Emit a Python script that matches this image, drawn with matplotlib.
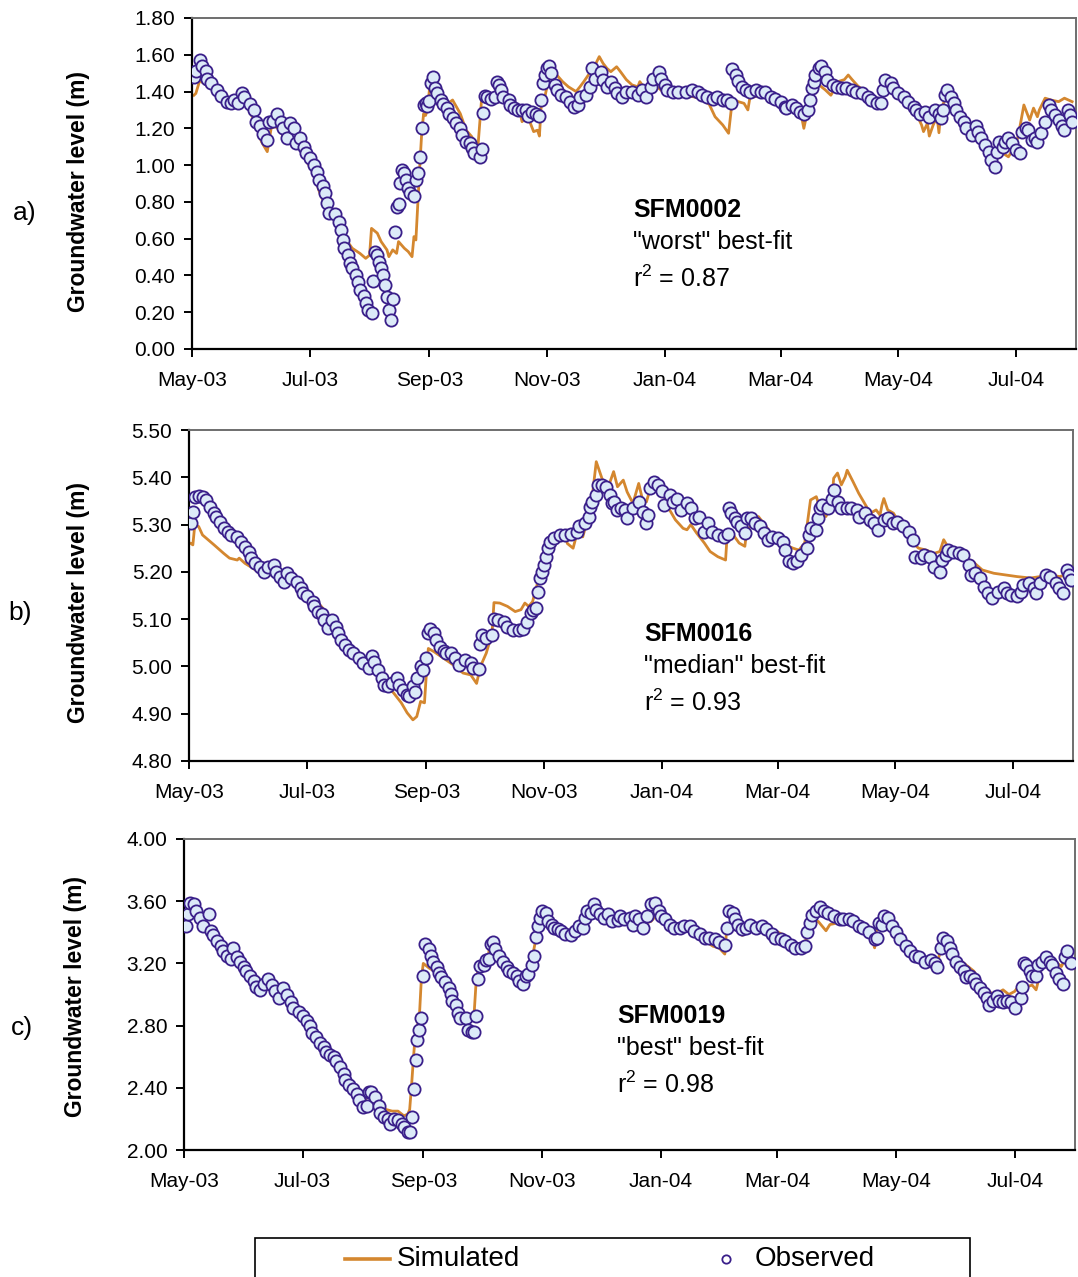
import numpy as np
import matplotlib
matplotlib.use("Agg")
import matplotlib.pyplot as plt
import matplotlib.dates as mdates
from matplotlib.patches import Rectangle
from matplotlib.lines import Line2D
from matplotlib.ticker import MultipleLocator, FormatStrFormatter

plt.rcParams['font.family'] = ['Liberation Sans', 'DejaVu Sans']
plt.rcParams['mathtext.fontset'] = 'custom'
plt.rcParams['mathtext.rm'] = 'Liberation Sans'
plt.rcParams['mathtext.it'] = 'Liberation Sans:italic'
plt.rcParams['mathtext.bf'] = 'Liberation Sans:bold'

START = np.datetime64('2003-05-01')
END = np.datetime64('2004-08-01')

# ---- SFM0002 : (days since 1 May 2003, level in m) ----
obs_a = [(1,1.48),(2,1.51),(4,1.57),(5,1.54),(7,1.51),(8,1.47),(10,1.445),(13,1.41),(15,1.375),(18,1.345),
         (20,1.34),(22,1.354),(24,1.34),(26,1.39),(27,1.37),(30,1.33),(32,1.30),(33,1.236),(35,1.21),(37,1.17),
         (39,1.137),(40,1.236),(42,1.24),(44,1.28),(46,1.236),(47,1.20),(49,1.145),(51,1.227),(53,1.20),(54,1.118),
         (56,1.145),(58,1.10),(59,1.064),(61,1.037),(63,1.0),(65,0.964),(66,0.919),(68,0.886),(69,0.85),(70,0.792),
         (71,0.738),(74,0.734),(76,0.692),(77,0.647),(78,0.593),(79,0.548),(81,0.511),(82,0.466),(83,0.439),(85,0.402),
         (86,0.366),(87,0.321),(89,0.288),(90,0.248),(91,0.212),(93,0.194),(94,0.371),(95,0.529),(96,0.51),(97,0.475),
         (98,0.44),(99,0.402),(100,0.348),(101,0.281),(102,0.212),(103,0.158),(104,0.27),(105,0.638),(106,0.774),(107,0.79),
         (108,0.90),(109,0.973),(110,0.955),(111,0.919),(112,0.874),(113,0.85),(115,0.832),(116,0.919),(117,0.955),(118,1.042),
         (119,1.2),(120,1.327),(121,1.34),(122,1.32),(123,1.35),(124,1.448),(125,1.48),(126,1.42),(127,1.39),(129,1.354),
         (130,1.335),(132,1.309),(133,1.28),(135,1.254),(137,1.227),(139,1.2),(140,1.164),(142,1.127),(144,1.118),(145,1.091),
         (146,1.064),(149,1.042),(150,1.09),(151,1.285),(152,1.376),(153,1.37),(155,1.36),(157,1.372),(158,1.454),(159,1.435),
         (160,1.41),(161,1.37),(164,1.354),(165,1.327),(167,1.31),(169,1.30),(171,1.30),(173,1.30),(174,1.267),(176,1.29),
         (178,1.28),(180,1.267),(181,1.354),(182,1.448),(183,1.49),(184,1.526),(185,1.54),(186,1.50),(188,1.436),(189,1.41),
         (191,1.38),(194,1.37),(196,1.345),(198,1.318),(200,1.327),(201,1.37),(204,1.38),(206,1.423),(207,1.526),(209,1.47),
         (212,1.508),(213,1.465),(215,1.426),(217,1.45),(219,1.42),(220,1.39),(223,1.372),(225,1.40),(228,1.40),(231,1.38),
         (233,1.41),(235,1.37),(238,1.426),(239,1.47),(242,1.508),(243,1.47),(245,1.435),(246,1.41),(249,1.40),(252,1.40),
         (256,1.40),(259,1.41),(262,1.40),(264,1.38),(267,1.37),(270,1.36),(272,1.37),(275,1.354),(277,1.354),(279,1.336),
         (280,1.52),(282,1.49),(283,1.455),(285,1.426),(287,1.41),(289,1.40),(292,1.41),(295,1.40),(297,1.40),(300,1.37),
         (302,1.36),(305,1.345),(307,1.318),(308,1.31),(311,1.327),(313,1.31),(315,1.29),(317,1.28),(319,1.30),(320,1.354),
         (321,1.417),(322,1.454),(323,1.49),(325,1.526),(326,1.54),(328,1.508),(329,1.465),(332,1.435),(334,1.426),(337,1.417),
         (339,1.417),(342,1.41),(344,1.40),(347,1.39),(350,1.372),(352,1.354),(355,1.336),(357,1.336),(358,1.41),(359,1.463),
         (362,1.445),(363,1.417),(366,1.39),(369,1.372),(371,1.345),(374,1.318),(375,1.30),(377,1.28),(380,1.29),(382,1.263),
         (385,1.30),(387,1.28),(388,1.254),(389,1.30),(390,1.38),(391,1.41),(393,1.372),(395,1.336),(396,1.30),(398,1.263),
         (400,1.236),(401,1.20),(404,1.164),(406,1.21),(407,1.182),(409,1.145),(411,1.11),(413,1.072),(414,1.027),(416,0.99),
         (417,1.072),(418,1.127),(420,1.10),(421,1.127),(423,1.145),(425,1.118),(427,1.08),(429,1.064),(430,1.182),(432,1.20),
         (433,1.19),(435,1.136),(437,1.145),(438,1.127),(440,1.173),(442,1.236),(444,1.327),(445,1.30),(447,1.272),(449,1.245),
         (451,1.21),(452,1.19),(454,1.30),(455,1.272),(456,1.236)]

sim_a = [(1,1.38),(2,1.39),(4,1.46),(11,1.41),(20,1.345),(23,1.35),(25,1.36),(28,1.33),(33,1.227),(36,1.127),
         (39,1.073),(41,1.2),(43,1.21),(46,1.19),(48,1.127),(51,1.17),(53,1.13),(56,1.082),(59,1.028),(63,0.955),
         (66,0.855),(70,0.756),(73,0.72),(77,0.665),(80,0.593),(83,0.548),(87,0.52),(90,0.493),(92,0.51),(93,0.656),
         (96,0.63),(98,0.584),(101,0.539),(102,0.502),(104,0.539),(106,0.52),(107,0.584),(110,0.548),(112,0.53),(114,0.502),
         (115,0.611),(116,0.593),(117,0.792),(118,0.99),(119,1.173),(120,1.28),(121,1.27),(122,1.30),(123,1.41),(126,1.41),
         (128,1.36),(132,1.33),(135,1.354),(139,1.28),(142,1.19),(145,1.154),(148,1.08),(150,1.354),(151,1.38),(154,1.38),
         (158,1.39),(163,1.354),(166,1.327),(170,1.282),(171,1.236),(173,1.26),(175,1.236),(177,1.182),(179,1.19),(180,1.158),
         (181,1.336),(183,1.38),(185,1.48),(189,1.49),(192,1.454),(195,1.426),(199,1.40),(201,1.426),(203,1.454),(206,1.50),
         (208,1.526),(211,1.59),(213,1.553),(215,1.526),(217,1.508),(220,1.535),(222,1.508),(225,1.465),(228,1.436),(231,1.426),
         (232,1.454),(235,1.41),(238,1.39),(241,1.426),(245,1.39),(256,1.38),(263,1.364),(268,1.33),(271,1.263),(275,1.218),
         (278,1.173),(280,1.36),(283,1.345),(286,1.336),(288,1.30),(289,1.364),(294,1.38),(297,1.39),(302,1.38),(307,1.327),
         (313,1.28),(316,1.254),(317,1.20),(319,1.30),(321,1.39),(325,1.435),(328,1.41),(331,1.38),(335,1.455),(338,1.465),
         (340,1.49),(342,1.465),(345,1.43),(350,1.39),(354,1.364),(357,1.354),(358,1.38),(361,1.426),(364,1.41),(368,1.38),
         (373,1.327),(376,1.263),(378,1.218),(379,1.182),(381,1.227),(382,1.158),(384,1.218),(386,1.263),(387,1.176),(388,1.30),
         (390,1.354),(394,1.354),(399,1.28),(404,1.21),(409,1.136),(413,1.10),(416,1.036),(419,1.072),(423,1.045),(426,1.10),
         (428,1.154),(431,1.327),(432,1.30),(434,1.245),(436,1.31),(438,1.263),(439,1.30),(442,1.364),(445,1.354),(449,1.345),
         (452,1.364),(456,1.345)]

# ---- SFM0016 ----
obs_b = [(1,5.304),(2,5.327),(3,5.359),(5,5.36),(7,5.359),(9,5.352),(11,5.338),(13,5.324),(14,5.317),(16,5.306),
         (18,5.292),(20,5.285),(22,5.278),(25,5.274),(27,5.264),(29,5.253),(31,5.243),(32,5.229),(34,5.218),(37,5.211),
         (39,5.20),(41,5.211),(44,5.215),(45,5.20),(47,5.19),(49,5.179),(51,5.197),(53,5.186),(56,5.178),(58,5.165),
         (59,5.155),(61,5.148),(64,5.137),(65,5.127),(67,5.116),(69,5.11),(70,5.098),(72,5.081),(74,5.098),(76,5.084),
         (77,5.07),(79,5.056),(81,5.046),(83,5.035),(85,5.028),(88,5.017),(90,5.007),(93,4.996),(95,5.021),(96,5.01),
         (98,4.993),(100,4.975),(101,4.96),(103,4.958),(105,4.965),(108,4.975),(109,4.961),(111,4.95),(113,4.94),(114,4.937),
         (116,4.958),(117,4.945),(118,4.975),(120,5.0),(121,4.993),(123,5.017),(124,5.07),(125,5.08),(127,5.07),(128,5.056),
         (130,5.042),(132,5.032),(133,5.028),(136,5.028),(138,5.017),(140,5.003),(143,5.014),(146,5.007),(147,4.996),(150,4.994),
         (151,5.048),(152,5.067),(154,5.06),(157,5.067),(158,5.10),(160,5.098),(163,5.095),(165,5.084),(168,5.077),(171,5.077),
         (173,5.08),(175,5.095),(177,5.112),(178,5.119),(180,5.123),(181,5.158),(182,5.186),(183,5.20),(184,5.215),(185,5.232),
         (186,5.25),(187,5.264),(189,5.271),(192,5.278),(195,5.278),(198,5.281),(201,5.285),(202,5.296),(205,5.303),(207,5.317),
         (208,5.338),(209,5.348),(211,5.362),(212,5.384),(214,5.384),(216,5.38),(218,5.362),(219,5.345),(220,5.348),(222,5.331),
         (224,5.334),(226,5.331),(227,5.313),(230,5.334),(233,5.348),(235,5.327),(237,5.303),(238,5.32),(239,5.377),(241,5.391),
         (243,5.384),(245,5.37),(246,5.341),(249,5.362),(251,5.348),(253,5.355),(255,5.331),(258,5.345),(260,5.334),(262,5.313),
         (264,5.317),(267,5.285),(269,5.303),(271,5.285),(274,5.278),(277,5.274),(279,5.281),(280,5.334),(281,5.324),(283,5.313),
         (284,5.306),(286,5.296),(288,5.282),(289,5.313),(291,5.313),(293,5.303),(296,5.296),(298,5.282),(300,5.268),(302,5.274),
         (305,5.271),(308,5.264),(309,5.246),(311,5.222),(313,5.218),(315,5.222),(317,5.236),(320,5.25),(321,5.278),(322,5.292),
         (325,5.289),(326,5.313),(327,5.334),(328,5.341),(331,5.334),(333,5.355),(334,5.373),(336,5.348),(338,5.334),(341,5.334),
         (343,5.334),(346,5.331),(347,5.317),(350,5.324),(353,5.31),(355,5.303),(357,5.289),(360,5.31),(362,5.313),(365,5.303),
         (367,5.306),(370,5.296),(373,5.285),(375,5.268),(376,5.232),(379,5.229),(381,5.236),(384,5.232),(386,5.211),(389,5.20),
         (390,5.225),(392,5.236),(393,5.246),(396,5.243),(399,5.239),(401,5.236),(404,5.215),(405,5.194),(407,5.197),(410,5.186),
         (412,5.169),(414,5.155),(416,5.144),(419,5.158),(422,5.165),(424,5.155),(426,5.151),(429,5.148),(431,5.158),(432,5.172),
         (435,5.176),(438,5.165),(439,5.155),(441,5.176),(444,5.194),(446,5.19),(449,5.176),(451,5.165),(453,5.155),(455,5.204),
         (456,5.194),(457,5.183)]

sim_b = [(1,5.26),(2,5.257),(3,5.299),(5,5.296),(7,5.278),(13,5.257),(18,5.239),(21,5.229),(25,5.225),(26,5.229),
         (29,5.218),(33,5.208),(38,5.194),(43,5.194),(47,5.187),(51,5.183),(56,5.18),(60,5.166),(64,5.148),(70,5.12),
         (75,5.092),(80,5.063),(85,5.035),(90,5.014),(95,4.993),(101,4.965),(106,4.944),(110,4.923),(113,4.902),(116,4.887),
         (118,4.894),(120,4.926),(122,4.923),(123,4.986),(124,5.038),(127,5.031),(132,5.017),(137,5.003),(142,4.986),(146,4.982),
         (149,4.964),(151,5.0),(154,5.028),(157,5.07),(158,5.135),(161,5.134),(165,5.127),(169,5.116),(172,5.12),(174,5.134),
         (176,5.127),(178,5.137),(181,5.183),(183,5.225),(186,5.26),(188,5.271),(191,5.278),(195,5.278),(196,5.26),(199,5.25),
         (201,5.281),(204,5.274),(206,5.303),(208,5.352),(209,5.362),(211,5.433),(214,5.397),(217,5.377),(220,5.412),(222,5.38),
         (225,5.394),(227,5.369),(230,5.345),(233,5.387),(235,5.352),(237,5.348),(239,5.377),(242,5.391),(245,5.37),(249,5.331),
         (252,5.31),(256,5.292),(258,5.289),(260,5.30),(263,5.282),(267,5.261),(270,5.243),(274,5.232),(278,5.225),(279,5.289),
         (282,5.278),(285,5.261),(288,5.254),(289,5.289),(292,5.30),(295,5.317),(299,5.296),(302,5.278),(306,5.268),(309,5.257),
         (313,5.25),(316,5.246),(319,5.261),(322,5.352),(325,5.359),(327,5.334),(330,5.317),(333,5.345),(334,5.398),(336,5.409),
         (338,5.384),(340,5.401),(341,5.415),(344,5.391),(347,5.366),(351,5.338),(353,5.324),(356,5.331),(358,5.32),(359,5.341),
         (360,5.355),(362,5.331),(365,5.324),(368,5.303),(372,5.285),(375,5.261),(378,5.25),(382,5.246),(386,5.239),(389,5.243),
         (391,5.268),(393,5.254),(397,5.246),(401,5.232),(406,5.222),(411,5.204),(417,5.197),(422,5.194),(429,5.19),(436,5.187),
         (441,5.19),(446,5.194),(451,5.19),(455,5.194)]

# ---- SFM0019 ----
obs_c = [(1,3.44),(2,3.517),(3,3.59),(5,3.58),(6,3.54),(8,3.495),(10,3.44),(13,3.517),(14,3.41),(15,3.38),
         (17,3.346),(19,3.31),(20,3.282),(22,3.25),(24,3.23),(25,3.30),(27,3.24),(29,3.21),(31,3.18),(32,3.15),
         (34,3.117),(36,3.085),(37,3.05),(39,3.03),(41,3.07),(43,3.10),(45,3.06),(47,3.02),(49,2.98),(51,3.04),
         (53,3.0),(55,2.95),(56,2.91),(59,2.89),(61,2.86),(63,2.83),(65,2.80),(66,2.755),(68,2.725),(70,2.69),
         (72,2.66),(73,2.63),(75,2.61),(77,2.60),(78,2.57),(80,2.535),(82,2.49),(83,2.45),(85,2.42),(87,2.39),
         (89,2.36),(90,2.32),(92,2.275),(94,2.285),(95,2.37),(96,2.37),(98,2.34),(100,2.285),(101,2.24),(103,2.21),
         (105,2.20),(106,2.17),(108,2.20),(110,2.19),(112,2.17),(113,2.15),(115,2.115),(116,2.115),(117,2.21),(118,2.39),
         (119,2.58),(120,2.71),(121,2.77),(122,2.85),(123,3.116),(124,3.325),(126,3.29),(127,3.25),(128,3.21),(130,3.18),
         (131,3.14),(132,3.11),(134,3.08),(136,3.04),(137,3.005),(138,2.96),(140,2.93),(141,2.88),(142,2.85),(145,2.85),
         (146,2.77),(148,2.76),(149,2.76),(150,2.86),(151,3.10),(152,3.185),(154,3.19),(155,3.22),(157,3.23),(158,3.325),
         (159,3.335),(160,3.29),(162,3.25),(164,3.21),(166,3.18),(167,3.15),(169,3.14),(171,3.12),(172,3.085),(174,3.065),
         (176,3.12),(177,3.13),(179,3.19),(180,3.25),(181,3.37),(182,3.44),(183,3.49),(184,3.535),(186,3.525),(187,3.47),
         (189,3.45),(190,3.43),(192,3.42),(194,3.41),(196,3.39),(199,3.38),(201,3.41),(203,3.44),(205,3.43),(206,3.49),
         (207,3.535),(209,3.525),(211,3.58),(212,3.545),(214,3.515),(216,3.49),(218,3.515),(220,3.47),(223,3.48),(224,3.505),
         (226,3.485),(229,3.495),(231,3.45),(232,3.506),(234,3.485),(236,3.43),(238,3.506),(240,3.58),(242,3.59),(244,3.54),
         (245,3.506),(247,3.485),(250,3.45),(252,3.43),(255,3.43),(257,3.44),(260,3.44),(262,3.41),(265,3.39),(268,3.366),
         (270,3.366),(273,3.355),(275,3.34),(278,3.32),(279,3.43),(280,3.54),(282,3.525),(283,3.485),(285,3.45),(287,3.42),
         (289,3.43),(291,3.45),(294,3.43),(297,3.44),(299,3.42),(302,3.39),(304,3.366),(307,3.355),(309,3.345),(312,3.32),
         (314,3.30),(317,3.30),(319,3.31),(320,3.40),(322,3.46),(323,3.51),(325,3.54),(327,3.56),(329,3.535),(331,3.525),
         (334,3.505),(337,3.485),(339,3.485),(342,3.485),(344,3.475),(347,3.44),(349,3.43),(352,3.40),(355,3.355),(356,3.366),
         (357,3.46),(359,3.45),(360,3.505),(362,3.495),(364,3.44),(366,3.40),(368,3.355),(371,3.31),(373,3.28),(376,3.25),
         (378,3.24),(381,3.21),(384,3.22),(386,3.20),(387,3.18),(389,3.30),(390,3.366),(392,3.345),(394,3.30),(395,3.26),
         (397,3.21),(399,3.18),(401,3.15),(402,3.11),(404,3.12),(406,3.10),(407,3.07),(409,3.04),(411,3.01),(413,2.98),
         (414,2.93),(416,2.96),(418,2.99),(419,2.96),(421,2.95),(423,2.96),(425,2.95),(427,2.91),(430,2.98),(431,3.05),
         (432,3.20),(433,3.19),(435,3.15),(436,3.12),(438,3.12),(439,3.19),(441,3.21),(443,3.24),(445,3.21),(446,3.19),
         (448,3.14),(450,3.10),(452,3.07),(453,3.24),(454,3.28),(456,3.20)]

sim_c = [(1,3.50),(3,3.53),(6,3.52),(10,3.47),(15,3.40),(20,3.31),(23,3.24),(25,3.27),(28,3.22),(33,3.13),
         (38,3.03),(40,3.02),(42,3.08),(46,3.02),(50,2.97),(53,2.98),(57,2.90),(62,2.84),(67,2.74),(72,2.65),
         (77,2.58),(82,2.48),(87,2.38),(91,2.31),(93,2.29),(94,2.40),(96,2.38),(100,2.30),(104,2.26),(107,2.25),
         (110,2.25),(113,2.22),(115,2.23),(116,2.26),(117,2.42),(118,2.60),(119,2.76),(120,2.80),(121,2.86),(122,3.10),
         (123,3.20),(124,3.19),(126,3.17),(130,3.14),(134,3.08),(138,3.00),(142,2.91),(145,2.87),(148,2.86),(149,2.85),
         (150,3.05),(151,3.15),(154,3.18),(156,3.21),(157,3.30),(159,3.33),(162,3.27),(166,3.19),(170,3.14),(173,3.12),
         (175,3.13),(178,3.17),(180,3.30),(182,3.43),(184,3.50),(187,3.49),(192,3.43),(197,3.39),(200,3.38),(203,3.43),
         (207,3.47),(211,3.53),(215,3.52),(220,3.48),(225,3.49),(230,3.46),(235,3.45),(240,3.47),(243,3.51),(247,3.47),
         (252,3.41),(258,3.41),(263,3.39),(267,3.35),(272,3.31),(275,3.30),(278,3.26),(279,3.43),(282,3.43),(285,3.41),
         (287,3.38),(289,3.41),(296,3.43),(304,3.41),(310,3.37),(312,3.34),(316,3.32),(318,3.31),(320,3.36),(322,3.47),
         (326,3.47),(330,3.41),(332,3.45),(340,3.47),(345,3.44),(350,3.40),(354,3.34),(355,3.30),(356,3.42),(359,3.42),
         (361,3.47),(366,3.40),(372,3.32),(377,3.24),(381,3.22),(383,3.20),(386,3.21),(388,3.24),(389,3.29),(391,3.33),
         (396,3.25),(402,3.19),(406,3.15),(410,3.07),(413,3.02),(417,3.00),(421,3.03),(424,3.00),(427,3.02),(430,3.07),
         (433,3.05),(436,3.06),(438,3.03),(439,3.08),(441,3.20),(445,3.23),(448,3.21),(451,3.18),(453,3.23),(456,3.23)]

wells = ["SFM0002", "SFM0016", "SFM0019"]
fit_labels = ['"worst" best-fit', '"median" best-fit', '"best" best-fit']
r2_values = ["0.87", "0.93", "0.98"]
panel_tags = ["a)", "b)", "c)"]
y_ranges = [(0.0, 1.8, 0.2), (4.8, 5.5, 0.1), (2.0, 4.0, 0.4)]

SIM_COLOR = "#D4872F"
OBS_EDGE = "#3A1F8A"
OBS_FACE = "#DCEAF8"

W, H = 1078, 1277
fig = plt.figure(figsize=(W / 100, H / 100), dpi=100)

# axes boxes in pixels: left, top, right, bottom
boxes = [(192, 18, 1076, 349), (189, 430, 1073, 761), (184, 839, 1075, 1150)]
text_x = [633, 644, 617]
text_y = [(210, 242, 279), (634, 666, 703), (1016, 1048, 1085)]
tag_pos = [(25, 213), (20, 613), (22, 1028)]
# right edge of the rotated y-label (pixels) and its vertical centre (axes fraction)
ylabel_x = [90, 90, 87]
ylabel_y = [0.475, 0.48, 0.495]


def to_dates(days):
    return START + np.asarray(days).astype('timedelta64[D]')


for i, (obs, sim) in enumerate([(obs_a, sim_a), (obs_b, sim_b), (obs_c, sim_c)]):
    l, t, r, b = boxes[i]
    ax = fig.add_axes([l / W, 1 - b / H, (r - l) / W, (b - t) / H])
    sd, sv = zip(*sim)
    od, ov = zip(*obs)
    ax.plot(to_dates(sd), sv, color=SIM_COLOR, lw=2.0, zorder=2)
    ax.plot(to_dates(od), ov, ls='none', marker='o', ms=8.8, mfc=OBS_FACE,
            mec=OBS_EDGE, mew=1.3, zorder=3)

    lo, hi, step = y_ranges[i]
    ax.set_ylim(lo, hi)
    ax.yaxis.set_major_locator(MultipleLocator(step))
    ax.yaxis.set_major_formatter(FormatStrFormatter('%.2f'))
    ax.set_xlim(START, END)
    ax.xaxis.set_major_locator(mdates.MonthLocator(bymonth=[1, 3, 5, 7, 9, 11]))
    ax.xaxis.set_major_formatter(mdates.DateFormatter('%b-%y'))

    ax.tick_params(axis='both', direction='out', length=6, width=1.4,
                   labelsize=15, color='black')
    ax.tick_params(axis='y', pad=6)
    ax.tick_params(axis='x', pad=10)
    for side in ('left', 'bottom'):
        ax.spines[side].set_linewidth(1.6)
        ax.spines[side].set_color('black')
    for side in ('top', 'right'):
        ax.spines[side].set_linewidth(1.4)
        ax.spines[side].set_color('#6e6e6e')

    ax.set_ylabel('Groundwater level (m)', fontsize=16.5, fontweight='bold')
    ax.yaxis.set_label_coords((ylabel_x[i] - l) / (r - l), ylabel_y[i])

    ty = text_y[i]
    tx = (text_x[i] - l) / (r - l)
    ax.text(tx, (b - ty[0]) / (b - t), wells[i], transform=ax.transAxes,
            fontsize=18, fontweight='bold', va='center', ha='left')
    ax.text(tx, (b - ty[1]) / (b - t), fit_labels[i], transform=ax.transAxes,
            fontsize=18, va='center', ha='left')
    ax.text(tx, (b - ty[2]) / (b - t), 'r$^{2}$ = ' + r2_values[i], transform=ax.transAxes,
            fontsize=18, va='center', ha='left')

    fig.text(tag_pos[i][0] / W, 1 - tag_pos[i][1] / H, panel_tags[i],
             fontsize=19, va='center', ha='center')

# legend frame along the bottom edge
fig.add_artist(Rectangle((255 / W, 1 - 1300 / H), 715 / W, 62 / H,
                         transform=fig.transFigure, fill=False,
                         edgecolor='black', lw=1.2))
ly = 1 - 1259 / H
fig.add_artist(Line2D([345 / W, 390 / W], [ly, ly], transform=fig.transFigure,
                      color=SIM_COLOR, lw=2.6))
fig.text(397 / W, ly, 'Simulated', fontsize=20, va='center', ha='left')
fig.add_artist(Line2D([726 / W], [ly], transform=fig.transFigure, ls='none',
                      marker='o', ms=6, mfc='white', mec=OBS_EDGE, mew=1.3))
fig.text(755 / W, ly, 'Observed', fontsize=20, va='center', ha='left')

fig.savefig('out.png', dpi=100)
